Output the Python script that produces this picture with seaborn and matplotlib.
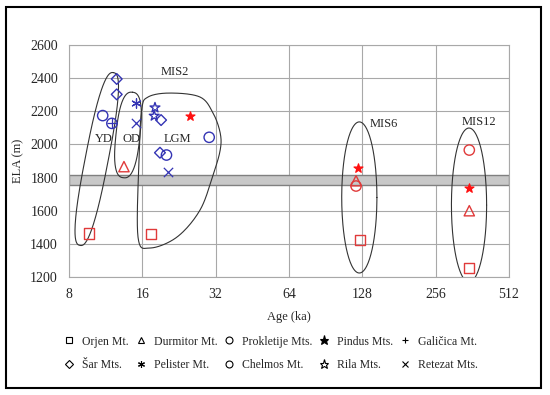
import numpy as np
import pandas as pd
import matplotlib
matplotlib.use("Agg")
import matplotlib.pyplot as plt
from matplotlib.lines import Line2D
from matplotlib.patches import Rectangle
import seaborn as sns

# ---- data (age in ka, ELA in m) ----
orjen_age = [9.66, 17.4, 125.3, 351.8]
orjen_ela = [1463, 1458, 1423, 1256]
durmitor_age = [13.45, 120.6, 351.8]
durmitor_ela = [1866, 1781, 1600]
prokletije_age = [11.0, 12.0, 20.1, 30.1]
prokletije_ela = [2174, 2127, 1936, 2043]
pindus_age = [25.1, 122.5, 351.8]
pindus_ela = [2172, 1860, 1735]
galicica_age = [12.0]
galicica_ela = [2127]
sar_age = [12.56, 12.56, 19.1, 18.9]
sar_ela = [2395, 2302, 2147, 1950]
pelister_age = [15.07]
pelister_ela = [2248]
chelmos_age = [120.6, 351.8]
chelmos_ela = [1749, 1966]
rila_age = [18.03, 17.9]
rila_ela = [2222, 2172]
retezat_age = [15.07, 20.4]
retezat_ela = [2131, 1836]

BLUE = "#3434b4"
RED = "#e03a3a"

ranges = [
    # name, ages, elas, marker, color, filled
    ("Orjen Mt.", orjen_age, orjen_ela, "s", RED, False),
    ("Durmitor Mt.", durmitor_age, durmitor_ela, "^", RED, False),
    ("Prokletije Mts.", prokletije_age, prokletije_ela, "o", BLUE, False),
    ("Pindus Mts.", pindus_age, pindus_ela, "*", "#ff1010", True),
    ("Galičica Mt.", galicica_age, galicica_ela, "+", BLUE, True),
    ("Šar Mts.", sar_age, sar_ela, "D", BLUE, False),
    ("Pelister Mt.", pelister_age, pelister_ela, (6, 2, 0), BLUE, True),
    ("Chelmos Mt.", chelmos_age, chelmos_ela, "o", RED, False),
    ("Rila Mts.", rila_age, rila_ela, "*", BLUE, False),
    ("Retezat Mts.", retezat_age, retezat_ela, "x", BLUE, True),
]

# mean ELA band
band_lo, band_hi = 1755, 1815

# LGM outline (age, ELA)
lgm_age = [15.9, 16.88, 20.8, 27.6, 31.2, 33.4, 33.4, 31.2, 27.6, 22.2, 17.2, 15.36, 15.5]
lgm_ela = [2208, 2286, 2310, 2286, 2190, 2069, 1966, 1815, 1604, 1441, 1375, 1441, 1906]

sns.set_style("white")
plt.rcParams["font.family"] = ["Liberation Serif", "DejaVu Serif"]
plt.rcParams["font.size"] = 10

fig = plt.figure(figsize=(5.5, 3.95), dpi=100)
ax = fig.add_axes([69 / 550, 1 - 277 / 395, 440 / 550, 232 / 395])
ax.set_xscale("log", base=2)
ax.set_xlim(8, 512)
ax.set_ylim(1200, 2600)
xticks = [8, 16, 32, 64, 128, 256, 512]
ax.set_xticks(xticks)
ax.set_xticklabels([str(t) for t in xticks])
ax.set_yticks(np.arange(1200, 2601, 200))
ax.xaxis.set_minor_locator(matplotlib.ticker.NullLocator())
ax.grid(True, color="#a8a8a8", lw=0.8)
for s in ax.spines.values():
    s.set_color("#a8a8a8")
    s.set_linewidth(0.8)
ax.tick_params(length=0, pad=8, labelsize=10)

ax.axhspan(band_lo, band_hi, facecolor="#c8c8c8", edgecolor="#808080", lw=1, zorder=1)

for name, ages, elas, mk, col, filled in ranges:
    df = pd.DataFrame({"age": ages, "ela": elas})
    if filled:
        sns.scatterplot(data=df, x="age", y="ela", marker=mk, color=col,
                        edgecolor=col, s=45, linewidth=0.9, ax=ax, zorder=3)
    else:
        sns.scatterplot(data=df, x="age", y="ela", marker=mk, facecolor="none",
                        edgecolor=col, s=55 if mk != "D" else 30, linewidth=1.0,
                        ax=ax, zorder=3)
ax.set_xlabel("Age (ka)", fontsize=9, labelpad=7)
ax.set_ylabel("ELA (m)", fontsize=9, labelpad=4)


def loop(ax, age, ela, half_len, half_wid, angle, n=2.6):
    c = ax.transData.transform((age, ela))
    t = np.linspace(0, 2 * np.pi, 200)
    u = half_len * np.sign(np.cos(t)) * np.abs(np.cos(t)) ** (2 / n)
    v = half_wid * np.sign(np.sin(t)) * np.abs(np.sin(t)) ** (2 / n)
    a = np.deg2rad(angle)
    px = c[0] + u * np.cos(a) - v * np.sin(a)
    py = c[1] + u * np.sin(a) + v * np.cos(a)
    d = ax.transData.inverted().transform(np.column_stack([px, py]))
    ax.plot(d[:, 0], d[:, 1], color="#333333", lw=0.8, zorder=2)


def closed_spline(ax, ages, elas):
    x = np.log2(ages)
    y = np.asarray(elas, float)
    n = len(x)
    xs, ys = [], []
    for i in range(n):
        p0, p1, p2, p3 = [(x[(i + k) % n], y[(i + k) % n]) for k in (-1, 0, 1, 2)]
        for t in np.linspace(0, 1, 20, endpoint=False):
            t2, t3 = t * t, t * t * t
            for arr, j in ((xs, 0), (ys, 1)):
                arr.append(0.5 * (2 * p1[j] + (-p0[j] + p2[j]) * t
                                  + (2 * p0[j] - 5 * p1[j] + 4 * p2[j] - p3[j]) * t2
                                  + (-p0[j] + 3 * p1[j] - 3 * p2[j] + p3[j]) * t3))
    xs.append(xs[0])
    ys.append(ys[0])
    ax.plot(2 ** np.array(xs), ys, color="#333333", lw=0.8, zorder=2)


def ellipse(ax, age, ela, half_oct, half_ela):
    t = np.linspace(0, 2 * np.pi, 200)
    x = 2 ** (np.log2(age) + half_oct * np.cos(t))
    y = ela + half_ela * np.sin(t)
    ax.plot(x, y, color="#333333", lw=0.8, zorder=2)


loop(ax, 10.4, 1912, 88, 11.5, 79)   # YD
loop(ax, 13.97, 2057, 43, 12, 84)    # OD
closed_spline(ax, lgm_age, lgm_ela)  # LGM
ellipse(ax, 124.4, 1680, 0.24, 456)  # MIS6
ellipse(ax, 350.9, 1634, 0.24, 465)  # MIS12

ax.text(21.8, 2437, "MIS2", ha="center", va="center", fontsize=9)
ax.text(11.1, 2033, "YD", ha="center", va="center", fontsize=9)
ax.text(14.4, 2033, "OD", ha="center", va="center", fontsize=9)
ax.text(22.2, 2033, "LGM", ha="center", va="center", fontsize=9)
ax.text(137, 2123, "MIS6", ha="left", va="center", fontsize=9)
ax.text(385, 2135, "MIS12", ha="center", va="center", fontsize=9)

# legend (black markers), column-major order for ncol=5
order = [0, 5, 1, 6, 2, 7, 3, 8, 4, 9]
handles = []
for i in order:
    name, _, _, mk, _, filled = ranges[i]
    ms = 6.5 if mk == "*" else 5
    if mk == "D":
        ms = 4
    handles.append(Line2D([], [], ls="none", marker=mk, color="black",
                          markerfacecolor="black" if (filled and mk == "*") else "none",
                          markeredgewidth=0.8, markersize=ms, label=name))
fig.legend(handles=handles, ncol=5, loc="center", bbox_to_anchor=(0.493, 0.106),
           frameon=False, fontsize=8.5, handlelength=0.8, handletextpad=0.7,
           columnspacing=0.6, labelspacing=0.95)

fig.patches.append(Rectangle((6 / 550, 7 / 395), 535 / 550, 381 / 395,
                             transform=fig.transFigure, fill=False,
                             edgecolor="black", lw=1.5))

fig.savefig("out.png", dpi=100)
